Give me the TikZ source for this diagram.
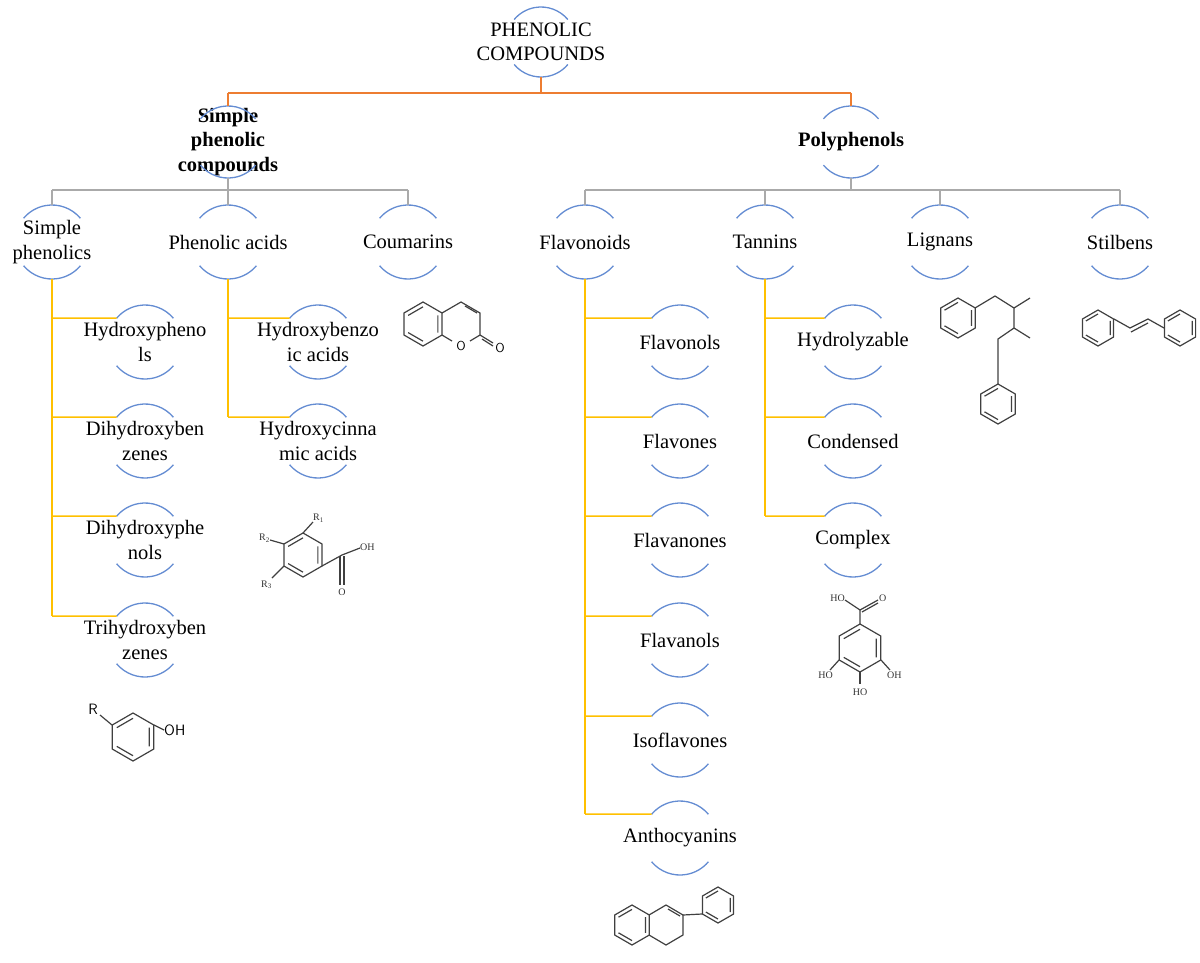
\documentclass[tikz,border=0pt]{standalone}
\usepackage{fontspec}
\setmainfont{Liberation Serif}
\definecolor{org}{RGB}{237,125,49}
\definecolor{gry}{RGB}{170,170,170}
\definecolor{yel}{RGB}{255,192,0}
\definecolor{blu}{RGB}{100,140,210}
\newcommand\cnode[5]{%
 \node[lbl] (#1) at (#2,-#3) {#4};
 \draw[arcs] ($(#1)+(40:#5)$) arc (40:140:#5);
 \draw[arcs] ($(#1)+(220:#5)$) arc (220:320:#5);}
\newcommand\hexa[3]{%
 \draw[mol] (#1,#2) +(90:#3) -- +(150:#3) -- +(210:#3) -- +(270:#3) -- +(330:#3) -- +(30:#3) -- cycle;
 \draw[mol] (#1,#2) +(90:0.78*#3) -- +(150:0.78*#3) +(210:0.78*#3) -- +(270:0.78*#3) +(330:0.78*#3) -- +(30:0.78*#3);}
\usetikzlibrary{calc}
\begin{document}
\begin{tikzpicture}[x=1pt,y=1pt,
 lbl/.style={align=center,font=\fontsize{20.5}{24.5}\selectfont,inner sep=0pt},
 arcs/.style={blu,line width=1.3pt},
 mol/.style={black!75,line width=1.2pt},
 ol/.style={org,line width=1.5pt},
 gl/.style={gry,line width=1.5pt},
 yl/.style={yel,line width=1.5pt},
 sm/.style={font=\fontsize{10}{11}\selectfont,inner sep=0pt,black!80}]
\useasboundingbox (0,0) rectangle (1200,-962);
\cnode{root}{541}{42}{PHENOLIC\\COMPOUNDS}{35}
\cnode{spc}{228}{142}{\textbf{Simple}\\\textbf{phenolic}\\\textbf{compounds}}{36}
\cnode{poly}{851}{142}{\textbf{Polyphenols}}{36}
\cnode{sp}{52}{242}{Simple\\phenolics}{37}
\cnode{pa}{228}{242}{Phenolic acids}{37}
\cnode{cou}{408}{242}{Coumarins}{37}
\cnode{fla}{585}{242}{Flavonoids}{37}
\cnode{tan}{765}{242}{Tannins}{37}
\cnode{lig}{940}{242}{Lignans}{37}
\cnode{sti}{1120}{242}{Stilbens}{37}
\cnode{hp}{145}{342}{Hydroxypheno\\ls}{37}
\cnode{dhb}{145}{441}{Dihydroxyben\\zenes}{37}
\cnode{dhp}{145}{540}{Dihydroxyphe\\nols}{37}
\cnode{thb}{145}{640}{Trihydroxyben\\zenes}{37}
\cnode{hba}{318}{342}{Hydroxybenzo\\ic acids}{37}
\cnode{hca}{318}{441}{Hydroxycinna\\mic acids}{37}
\cnode{f1}{680}{342}{Flavonols}{37}
\cnode{f2}{680}{441}{Flavones}{37}
\cnode{f3}{680}{540}{Flavanones}{37}
\cnode{f4}{680}{640}{Flavanols}{37}
\cnode{f5}{680}{740}{Isoflavones}{37}
\cnode{f6}{680}{838}{Anthocyanins}{37}
\cnode{t1}{853}{342}{Hydrolyzable}{37}
\cnode{t2}{853}{441}{Condensed}{37}
\cnode{t3}{853}{540}{Complex}{37}
% orange
\draw[ol] ($(root)+(0,-35)$) -- ++(0,-16);
\draw[ol] (spc |- 0,-93) -- (poly |- 0,-93);
\draw[ol] (spc |- 0,-93) -- ($(spc)+(0,36)$);
\draw[ol] (poly |- 0,-93) -- ($(poly)+(0,36)$);
% gray
\draw[gl] ($(spc)+(0,-36)$) -- (spc |- 0,-190);
\draw[gl] (sp |- 0,-190) -- (cou |- 0,-190);
\foreach \n in {sp,pa,cou} \draw[gl] (\n |- 0,-190) -- ($(\n)+(0,37)$);
\draw[gl] ($(poly)+(0,-36)$) -- (poly |- 0,-190);
\draw[gl] (fla |- 0,-190) -- (sti |- 0,-190);
\foreach \n in {fla,tan,lig,sti} \draw[gl] (\n |- 0,-190) -- ($(\n)+(0,37)$);
% yellow
\draw[yl] ($(sp)+(0,-37)$) -- ($(sp|-thb)+(0,23.8)$);
\foreach \c in {hp,dhb,dhp,thb} \draw[yl] ($(sp|-\c)+(0,23.8)$) -- ($(\c)+(140:37)$);
\draw[yl] ($(pa)+(0,-37)$) -- ($(pa|-hca)+(0,23.8)$);
\foreach \c in {hba,hca} \draw[yl] ($(pa|-\c)+(0,23.8)$) -- ($(\c)+(140:37)$);
\draw[yl] ($(fla)+(0,-37)$) -- ($(fla|-f6)+(0,23.8)$);
\foreach \c in {f1,f2,f3,f4,f5,f6} \draw[yl] ($(fla|-\c)+(0,23.8)$) -- ($(\c)+(140:37)$);
\draw[yl] ($(tan)+(0,-37)$) -- ($(tan|-t3)+(0,23.8)$);
\foreach \c in {t1,t2,t3} \draw[yl] ($(tan|-\c)+(0,23.8)$) -- ($(\c)+(140:37)$);
% phenol
\hexa{133}{-737}{24}
\draw[mol] (154,-725) -- (164,-730);
\node[font=\fontsize{15}{16}\selectfont\sffamily,anchor=west,inner sep=0pt] at (164,-730) {OH};
\draw[mol] (112,-725) -- (100,-715);
\node[font=\fontsize{15}{16}\selectfont\sffamily,inner sep=0pt] at (93,-709) {R};
% coumarin
\hexa{423}{-324}{22}
\draw[mol] (442,-313) -- (461,-302) -- (480,-313) -- (480,-335) -- (470,-341);
\draw[mol] (465,-306) -- (477,-313);
\draw[mol] (452,-341) -- (442,-335);
\node[font=\fontsize{13}{14}\selectfont\sffamily,inner sep=0pt] at (461,-346) {O};
\draw[mol] (480,-335) -- (493,-343);
\draw[mol] (482,-339) -- (493,-346);
\node[font=\fontsize{13}{14}\selectfont\sffamily,inner sep=0pt] at (500,-348) {O};
% benzoic acid
\hexa{303}{-555}{22}
\draw[mol] (303,-533) -- (313,-522);
\node[sm,anchor=west] at (313,-518) {R\textsubscript{1}};
\draw[mol] (284,-544) -- (270,-540);
\node[sm,anchor=east] at (270,-538) {R\textsubscript{2}};
\draw[mol] (284,-566) -- (272,-578);
\node[sm,anchor=east] at (272,-585) {R\textsubscript{3}};
\draw[mol] (322,-566) -- (342,-555) -- (360,-548);
\draw[mol] (340,-556) -- (340,-585);
\draw[mol] (344,-556) -- (344,-585);
\node[sm,anchor=west] at (360,-547) {OH};
\node[sm] at (342,-592) {O};
% gallic acid
\hexa{860}{-648}{24}
\draw[mol] (860,-624) -- (860,-610) -- (878,-600);
\draw[mol] (860,-610) -- (845,-600);
\draw[mol] (862,-612) -- (878,-603);
\node[sm,anchor=east] at (845,-598) {HO};
\node[sm,anchor=west] at (879,-598) {O};
\draw[mol] (839,-660) -- (830,-670);
\node[sm,anchor=east] at (833,-675) {HO};
\draw[mol] (881,-660) -- (890,-670);
\node[sm,anchor=west] at (887,-675) {OH};
\draw[mol] (860,-672) -- (860,-684);
\node[sm] at (860,-692) {HO};
% lignan
\hexa{958}{-318}{20}
\hexa{998}{-404}{20}
\draw[mol] (975,-308) -- (995,-296) -- (1014,-308) -- (1014,-328) -- (998,-339) -- (998,-384);
\draw[mol] (1014,-308) -- (1030,-298);
\draw[mol] (1014,-328) -- (1030,-338);
% stilbene
\hexa{1098}{-328}{18}
\hexa{1180}{-328}{18}
\draw[mol] (1114,-319) -- (1130,-328) -- (1148,-319) -- (1164,-328);
\draw[mol] (1131,-332) -- (1148,-323);
% flavene
\hexa{632}{-925}{20}
\draw[mol] (649,-915) -- (666,-905) -- (683,-915) -- (683,-935) -- (666,-945) -- (649,-935);
\draw[mol] (668,-909) -- (680,-916);
\hexa{718}{-905}{18}
\draw[mol] (683,-915) -- (702,-914);
\end{tikzpicture}
\end{document}
